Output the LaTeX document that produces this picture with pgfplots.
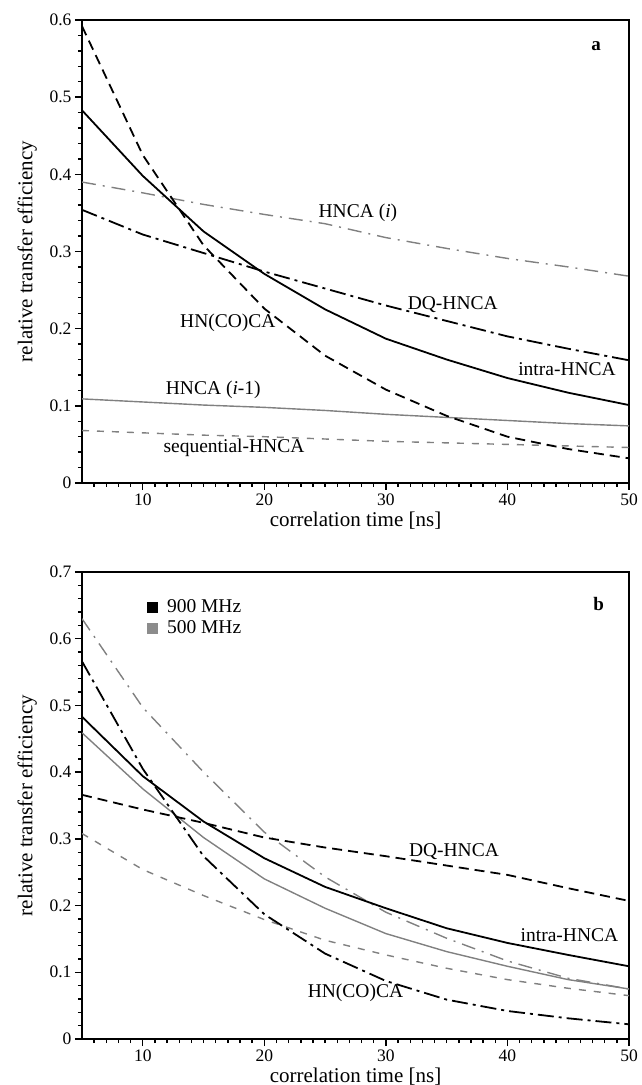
\documentclass[border=0pt]{standalone}
\usepackage{pgfplots}
\pgfplotsset{compat=1.18}
\usepackage{fontspec}
\setmainfont{Liberation Serif}
\tikzset{
  blk/.style={black, line width=1.8pt},
  gr/.style={black!50, line width=1.4pt},
  bdash/.style={dash pattern=on 10pt off 6pt},
  bdd/.style={dash pattern=on 16pt off 5pt on 3pt off 5pt},
  gdd/.style={dash pattern=on 14pt off 7pt on 2pt off 7pt},
  gdash/.style={dash pattern=on 7pt off 8pt},
}
\pgfplotsset{
  myaxis/.style={
    scale only axis, width=547pt,
    xmin=5, xmax=50,
    xtick={10,20,30,40,50},
    minor xtick={6,7,8,9,11,12,13,14,15,16,17,18,19,21,22,23,24,25,26,27,28,29,31,32,33,34,35,36,37,38,39,41,42,43,44,45,46,47,48,49},
    minor y tick num=4,
    tick align=outside, tick pos=left,
    major tick length=7pt, minor tick length=4pt,
    every tick/.style={black, line width=1.4pt},
    axis line style={line width=2pt},
    /pgf/number format/assume math mode=true,
    tick label style={font=\fontsize{17.5}{20}\selectfont},
    label style={font=\fontsize{21}{24}\selectfont},
    xlabel={correlation time [ns]},
    ylabel={relative transfer efficiency},
    ylabel style={at={(axis description cs:-0.1,0.5)}, anchor=center},
    clip=true,
  }
}
\begin{document}
\begin{tikzpicture}[x=1pt,y=1pt]
\useasboundingbox (0,0) rectangle (641,1085);
% ---------- panel a ----------
\begin{axis}[myaxis, at={(82pt,602pt)}, anchor=south west, height=463pt,
  ymin=0, ymax=0.6, ytick={0,0.1,0.2,0.3,0.4,0.5,0.6},
  xlabel style={at={(axis description cs:0.5,-0.082)}, anchor=center}]
\addplot[gr, gdd] coordinates {(5,.390)(10,.376)(15,.361)(20,.348)(25,.336)(30,.318)(35,.304)(40,.291)(45,.280)(50,.268)};
\addplot[gr] coordinates {(5,.109)(10,.105)(15,.101)(20,.098)(25,.094)(30,.089)(35,.085)(40,.081)(45,.077)(50,.074)};
\addplot[gr, gdash] coordinates {(5,.068)(10,.065)(15,.062)(20,.060)(25,.057)(30,.054)(35,.052)(40,.050)(45,.048)(50,.046)};
\addplot[blk] coordinates {(5,.483)(10,.398)(15,.326)(20,.271)(25,.225)(30,.187)(35,.160)(40,.136)(45,.117)(50,.101)};
\addplot[blk, bdash] coordinates {(5,.592)(10,.425)(15,.308)(20,.226)(25,.165)(30,.121)(35,.087)(40,.060)(45,.044)(50,.032)};
\addplot[blk, bdd] coordinates {(5,.354)(10,.322)(15,.298)(20,.274)(25,.252)(30,.230)(35,.210)(40,.190)(45,.174)(50,.159)};
\begin{scope}[every node/.style={font=\fontsize{19.5}{23}\selectfont}]
\node at (axis cs:27.7,0.350) {HNCA (\textit{i})};
\node at (axis cs:35.5,0.231) {DQ-HNCA};
\node at (axis cs:17.0,0.207) {HN(CO)CA};
\node at (axis cs:44.9,0.147) {intra-HNCA};
\node at (axis cs:15.8,0.121) {HNCA (\textit{i}-1)};
\node at (axis cs:17.5,0.045) {sequential-HNCA};
\node[font=\fontsize{19}{22}\selectfont\bfseries] at (axis cs:47.3,0.566) {a};
\end{scope}
\end{axis}
% ---------- panel b ----------
\begin{axis}[myaxis, at={(82pt,46pt)}, anchor=south west, height=467pt,
  ymin=0, ymax=0.7, ytick={0,0.1,0.2,0.3,0.4,0.5,0.6,0.7},
  xlabel style={at={(axis description cs:0.5,-0.080)}, anchor=center},
  legend style={at={(0.113,0.95)}, anchor=north west, draw=none, fill=none,
    font=\fontsize{19.5}{22}\selectfont, row sep=3pt},
  legend cell align=left]
\addlegendimage{only marks, mark=square*, mark size=5pt, black}
\addlegendentry{\hspace{8pt}900 MHz}
\addlegendimage{only marks, mark=square*, mark size=5pt, black!45}
\addlegendentry{\hspace{8pt}500 MHz}
\addplot[gr, gdd, forget plot] coordinates {(5,.630)(10,.497)(15,.400)(20,.310)(25,.243)(30,.190)(35,.151)(40,.117)(45,.091)(50,.075)};
\addplot[gr, forget plot] coordinates {(5,.459)(10,.375)(15,.302)(20,.240)(25,.196)(30,.158)(35,.131)(40,.109)(45,.089)(50,.075)};
\addplot[gr, gdash, forget plot] coordinates {(5,.308)(10,.254)(15,.215)(20,.179)(25,.148)(30,.126)(35,.106)(40,.089)(45,.076)(50,.065)};
\addplot[blk, forget plot] coordinates {(5,.483)(10,.394)(15,.326)(20,.271)(25,.228)(30,.196)(35,.166)(40,.144)(45,.126)(50,.109)};
\addplot[blk, bdash, forget plot] coordinates {(5,.366)(10,.344)(15,.324)(20,.302)(25,.287)(30,.274)(35,.260)(40,.246)(45,.226)(50,.207)};
\addplot[blk, bdd, forget plot] coordinates {(5,.566)(10,.405)(15,.274)(20,.187)(25,.128)(30,.087)(35,.059)(40,.042)(45,.031)(50,.022)};
\begin{scope}[every node/.style={font=\fontsize{19.5}{23}\selectfont}]
\node at (axis cs:35.6,0.281) {DQ-HNCA};
\node at (axis cs:45.1,0.156) {intra-HNCA};
\node at (axis cs:27.5,0.069) {HN(CO)CA};
\node[font=\fontsize{19}{22}\selectfont\bfseries] at (axis cs:47.5,0.652) {b};
\end{scope}
\end{axis}
\end{tikzpicture}
\end{document}
